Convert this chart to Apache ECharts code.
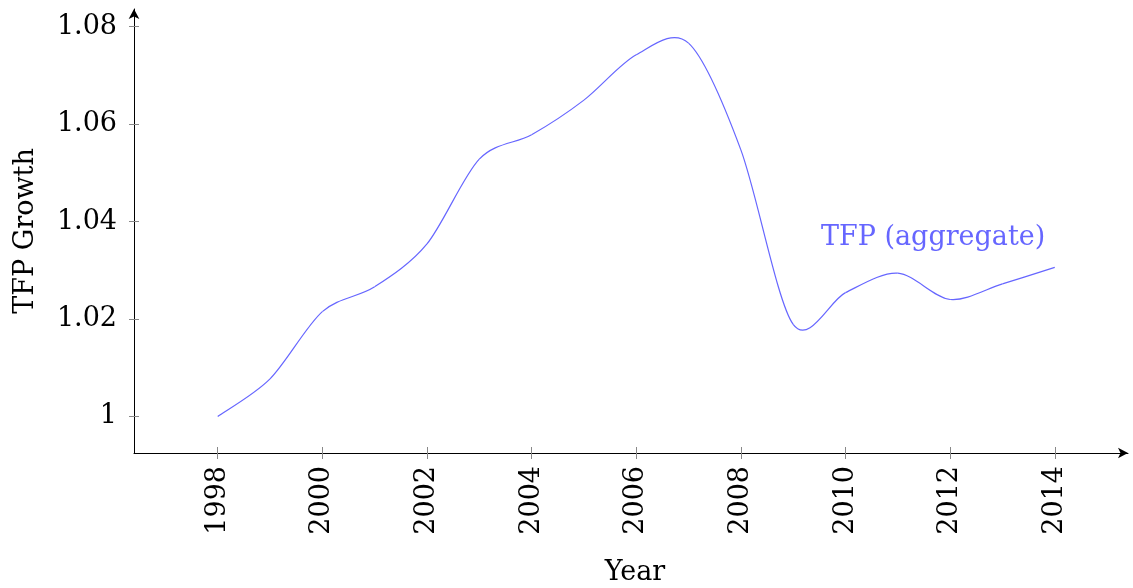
<!DOCTYPE html>
<html>
<head>
<meta charset="utf-8">
<title>TFP Growth</title>
<script src="https://cdn.jsdelivr.net/npm/echarts@6/dist/echarts.min.js"></script>
<style>
  html, body { margin: 0; padding: 0; background: #fff; }
  #chart { width: 1133px; height: 588px; }
</style>
</head>
<body>
<div id="chart"></div>
<script>
// data
var years = [1998, 1999, 2000, 2001, 2002, 2003, 2004, 2005, 2006, 2007, 2008, 2009, 2010, 2011, 2012, 2013, 2014];
var tfp = [1.000, 1.0077, 1.0215, 1.0266, 1.0354, 1.0528, 1.0578, 1.0649, 1.0742, 1.0766, 1.0547, 1.0189, 1.0254, 1.0294, 1.0240, 1.0272, 1.0306];
var xTicks = [1998, 2000, 2002, 2004, 2006, 2008, 2010, 2012, 2014];
var yTicks = [1, 1.02, 1.04, 1.06, 1.08];
var seriesName = 'TFP (aggregate)';

var font = 'DejaVu Serif';
var lineColor = '#6666ff';
// pgfplots "smooth" (tension 0.55)
var tension = 0.2775 * 0.55;

var chart = echarts.init(document.getElementById('chart'), null, { renderer: 'canvas' });

var pts = years.map(function (y, i) { return [y, tfp[i]]; });

function yFmt(v) {
  return Math.abs(v - 1) < 1e-9 ? '1' : v.toFixed(2);
}

// one bezier segment per point, from it to the next one
function renderSegment(params, api) {
  var i = params.dataIndex;
  var n = years.length;
  if (i >= n - 1) return null;
  function P(k) {
    k = Math.max(0, Math.min(n - 1, k));
    return api.coord([years[k], tfp[k]]);
  }
  var a = P(i - 1), b = P(i), c = P(i + 1), d = P(i + 2);
  return {
    type: 'bezierCurve',
    shape: {
      x1: b[0], y1: b[1],
      x2: c[0], y2: c[1],
      cpx1: b[0] + tension * (c[0] - a[0]),
      cpy1: b[1] + tension * (c[1] - a[1]),
      cpx2: c[0] - tension * (d[0] - b[0]),
      cpy2: c[1] - tension * (d[1] - b[1])
    },
    style: { stroke: lineColor, lineWidth: 1.2, fill: 'none' },
    silent: true
  };
}

var tickStyle = { color: '#888', width: 1 };

var option = {
  animation: false,
  backgroundColor: '#fff',
  grid: {
    left: 134,
    right: 5,
    top: 9,
    bottom: 135,
    containLabel: false,
    outerBoundsMode: 'none'
  },
  xAxis: [{
    type: 'value',
    min: 1996.4,
    max: 2015.4,
    name: 'Year',
    nameLocation: 'middle',
    nameGap: 106,
    nameTextStyle: { fontFamily: font, fontSize: 27, color: '#000', padding: [0, 0, 0, 8] },
    axisLine: {
      show: true,
      symbol: ['none', 'arrow'],
      symbolSize: [8, 10],
      lineStyle: { color: '#000', width: 1 }
    },
    axisTick: { show: true, inside: false, length: 6, customValues: xTicks, lineStyle: tickStyle },
    axisLabel: {
      customValues: xTicks,
      rotate: 90,
      margin: 13,
      fontFamily: font,
      fontSize: 27,
      color: '#000',
      formatter: function (v) { return String(v); }
    },
    splitLine: { show: false }
  }, {
    type: 'value',
    min: 1996.4,
    max: 2015.4,
    position: 'bottom',
    axisLine: { show: false },
    axisTick: { show: true, inside: true, length: 6, customValues: xTicks, lineStyle: tickStyle },
    axisLabel: { show: false },
    splitLine: { show: false }
  }],
  yAxis: [{
    type: 'value',
    min: 0.9925,
    max: 1.0836,
    name: 'TFP Growth',
    nameLocation: 'middle',
    nameGap: 95,
    nameRotate: 90,
    nameTextStyle: { fontFamily: font, fontSize: 27, color: '#000' },
    axisLine: {
      show: true,
      symbol: ['none', 'arrow'],
      symbolSize: [8, 10],
      lineStyle: { color: '#000', width: 1 }
    },
    axisTick: { show: true, inside: false, length: 5, customValues: yTicks, lineStyle: tickStyle },
    axisLabel: {
      customValues: yTicks,
      margin: 17,
      fontFamily: font,
      fontSize: 27,
      color: '#000',
      formatter: yFmt
    },
    splitLine: { show: false }
  }, {
    type: 'value',
    min: 0.9925,
    max: 1.0836,
    position: 'left',
    axisLine: { show: false },
    axisTick: { show: true, inside: true, length: 5, customValues: yTicks, lineStyle: tickStyle },
    axisLabel: { show: false },
    splitLine: { show: false }
  }],
  series: [{
    name: seriesName,
    type: 'custom',
    xAxisIndex: 0,
    yAxisIndex: 0,
    data: pts,
    encode: { x: 0, y: 1 },
    renderItem: renderSegment,
    z: 3
  }],
  graphic: [{
    type: 'text',
    x: 821,
    y: 238,
    style: {
      text: seriesName,
      font: '27px "' + font + '"',
      fill: lineColor,
      verticalAlign: 'middle',
      align: 'left'
    }
  }]
};

chart.setOption(option);
</script>
</body>
</html>
